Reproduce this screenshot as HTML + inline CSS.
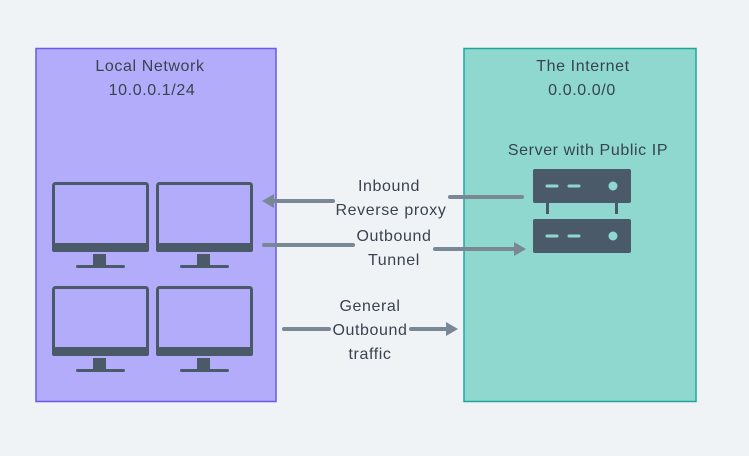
<!DOCTYPE html>
<html><head><style>
body{margin:0;background:#f0f3f6;}
svg{display:block;font-family:"Liberation Sans",sans-serif;}
</style></head><body>
<svg width="749" height="456" viewBox="0 0 749 456" xmlns="http://www.w3.org/2000/svg">
<rect width="749" height="456" fill="#f0f3f6"/>
<rect x="36" y="48.5" width="240" height="353" fill="#b2acfa" stroke="#6a5ae6" stroke-width="1.5"/>
<rect x="464" y="48.5" width="232" height="353" fill="#8ed8d0" stroke="#1fa898" stroke-width="1.5"/>
<g fill="#39434f" font-size="16" text-anchor="middle" letter-spacing="0.6">
<text x="150" y="71">Local Network</text>
<text x="152" y="95">10.0.0.1/24</text>
<text x="583" y="71">The Internet</text>
<text x="582" y="95">0.0.0.0/0</text>
<text x="588" y="155">Server with Public IP</text>
<text x="389" y="191">Inbound</text>
<text x="391" y="215">Reverse proxy</text>
<text x="394" y="241">Outbound</text>
<text x="394" y="265">Tunnel</text>
<text x="370" y="311">General</text>
<text x="370" y="335">Outbound</text>
<text x="370" y="359">traffic</text>
</g>
<defs>
<g id="mon">
<rect x="1.5" y="1.5" width="94" height="67" rx="2" fill="none" stroke="#4a5a68" stroke-width="3"/>
<rect x="0" y="61" width="97" height="9" rx="2" fill="#4a5a68"/>
<rect x="41" y="72" width="13" height="12" fill="#4a5a68"/>
<rect x="24" y="83" width="49" height="3" rx="1.5" fill="#4a5a68"/>
</g>
</defs>
<use href="#mon" x="52" y="182"/>
<use href="#mon" x="156" y="182"/>
<use href="#mon" x="52" y="286"/>
<use href="#mon" x="156" y="286"/>
<g fill="#4a5a68">
<rect x="533" y="169" width="98" height="34" rx="2"/>
<rect x="533" y="219" width="98" height="34" rx="2"/>
<rect x="546" y="203" width="3" height="11"/>
<rect x="615" y="203" width="3" height="11"/>
</g>
<g stroke="#8ed8d0" stroke-width="3" stroke-linecap="round">
<line x1="547" y1="186" x2="557" y2="186"/><line x1="569" y1="186" x2="579" y2="186"/>
<line x1="547" y1="236" x2="557" y2="236"/><line x1="569" y1="236" x2="579" y2="236"/>
</g>
<circle cx="613" cy="186" r="4.5" fill="#8ed8d0"/>
<circle cx="613" cy="236" r="4.5" fill="#8ed8d0"/>
<g stroke="#7a8794" stroke-width="4" stroke-linecap="round" fill="none">
<line x1="450" y1="197" x2="522" y2="197"/>
<line x1="270" y1="201" x2="333" y2="201"/>
<line x1="264" y1="245" x2="353" y2="245"/>
<line x1="435" y1="249" x2="516" y2="249"/>
<line x1="284" y1="329" x2="329" y2="329"/>
<line x1="411" y1="329" x2="448" y2="329"/>
</g>
<g fill="#7a8794">
<polygon points="262,201 274,194 274,208"/>
<polygon points="526,249 514,242 514,256"/>
<polygon points="458,329 446,322 446,336"/>
</g>
</svg>
</body></html>
